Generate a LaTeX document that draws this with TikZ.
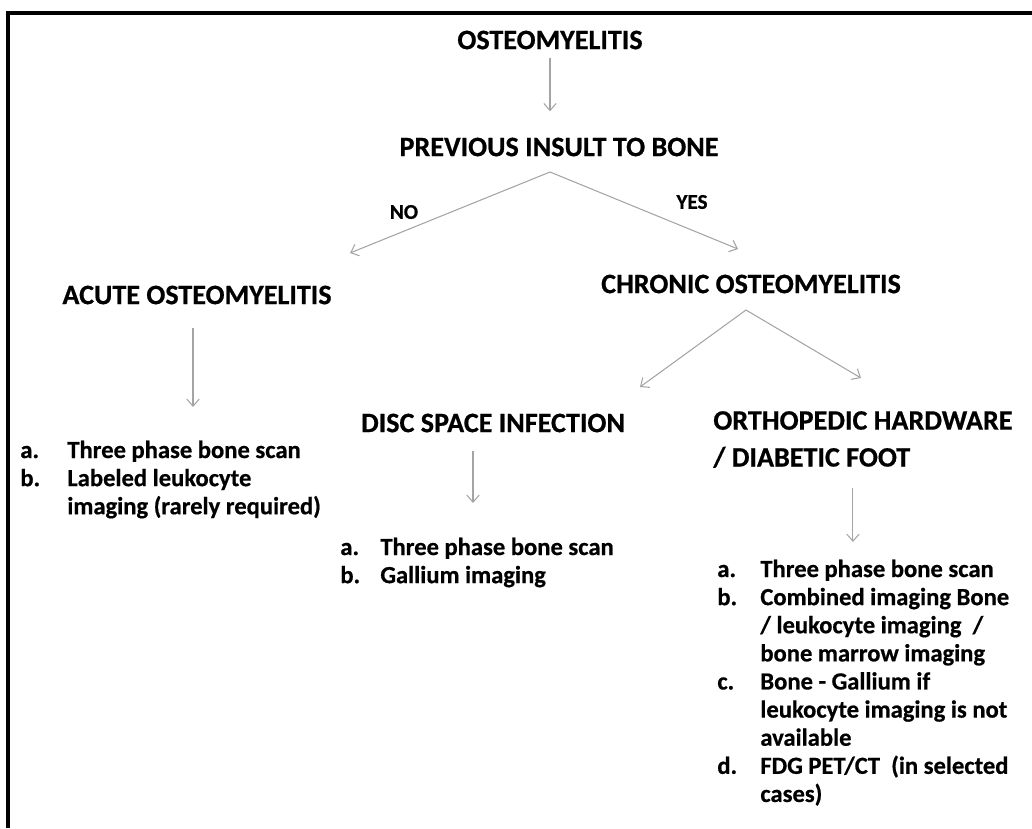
\documentclass[tikz,border=0pt]{standalone}
\usepackage{fontspec}
\setmainfont{Carlito}[BoldFeatures={FakeBold=0.6}]
\usetikzlibrary{arrows.meta}
\definecolor{flowgray}{HTML}{A4A4A4}
\tikzset{
  heading/.style={font=\bfseries\fontsize{16pt}{21pt}\selectfont, inner sep=0pt},
  answer/.style={font=\bfseries\fontsize{12pt}{14pt}\selectfont, inner sep=0pt},
  itemlist/.style={font=\bfseries\fontsize{14pt}{16pt}\selectfont, inner sep=0pt, anchor=base west},
  flow/.style={-{Straight Barb[length=4pt,width=7pt]}, draw=flowgray, line width=0.6pt},
}

\begin{document}
\begin{tikzpicture}
    \useasboundingbox (0,0) rectangle (20.64,-16.56);
    \draw[line width=2.1pt] (0.16,-16.56) -- (0.16,-0.26) -- (20.64,-0.26);
    % headings
    \node[heading] (root) at (11.0,-0.8) {OSTEOMYELITIS};
    \node[heading] (insult) at (11.18,-2.94) {PREVIOUS INSULT TO BONE};
    \node[heading] (acute) at (3.94,-5.9) {ACUTE OSTEOMYELITIS};
    \node[heading] (chronic) at (15.02,-5.68) {CHRONIC OSTEOMYELITIS};
    \node[heading] (disc) at (9.86,-8.46) {DISC SPACE INFECTION};
    \node[heading, anchor=west, align=left] (hardware) at (14.26,-8.79) {ORTHOPEDIC HARDWARE\\/ DIABETIC FOOT};
    \node[answer] (no) at (8.08,-4.24) {NO};
    \node[answer] (yes) at (13.84,-4.04) {YES};
    % lists
    \node[itemlist] (acutelist) at (0.4,-9.16) {\begin{tabular}[t]{@{}p{0.94cm}@{}l@{}}
      a. & Three phase bone scan\\
      b. & Labeled leukocyte\\
         & imaging (rarely required)
    \end{tabular}};
    \node[itemlist] (disclist) at (6.8,-11.1) {\begin{tabular}[t]{@{}p{0.8cm}@{}l@{}}
      a. & Three phase bone scan\\
      b. & Gallium imaging
    \end{tabular}};
    \node[itemlist] (hwlist) at (14.34,-11.54) {\begin{tabular}[t]{@{}p{0.86cm}@{}l@{}}
      a. & Three phase bone scan\\
      b. & Combined imaging Bone\\
         & / leukocyte imaging~ /\\
         & bone marrow imaging\\
      c. & Bone - Gallium if\\
         & leukocyte imaging is not\\
         & available\\
      d. & FDG PET/CT~ (in selected\\
         & cases)
    \end{tabular}};
    % connectors
    \coordinate (fork1) at (11.0,-3.44);
    \coordinate (noend) at (7.0,-5.06);
    \coordinate (yesend) at (14.76,-4.98);
    \coordinate (fork2) at (14.92,-6.2);
    \coordinate (discend) at (12.8,-7.74);
    \coordinate (hwend) at (17.22,-7.56);
    \draw[flow, shorten <=0.16cm, shorten >=0.52cm] (root.south) -- (root.south |- insult.north);
    \draw[flow] (fork1) -- (noend);
    \draw[flow] (fork1) -- (yesend);
    \draw[flow] (fork2) -- (discend);
    \draw[flow] (fork2) -- (hwend);
    \draw[flow, shorten <=0.46cm, shorten >=0.62cm] ([xshift=-0.08cm]acute.south) -- ([xshift=-0.08cm]acute.south |- acutelist.north);
    \draw[flow, shorten <=0.36cm, shorten >=0.64cm] ([xshift=-0.4cm]disc.south) -- ([xshift=-0.4cm]disc.south |- disclist.north);
    \draw[flow, shorten <=0.4cm, shorten >=0.3cm] ([xshift=-0.2cm]hardware.south) -- ([xshift=-0.2cm]hardware.south |- hwlist.north);
  \end{tikzpicture}
\end{document}
